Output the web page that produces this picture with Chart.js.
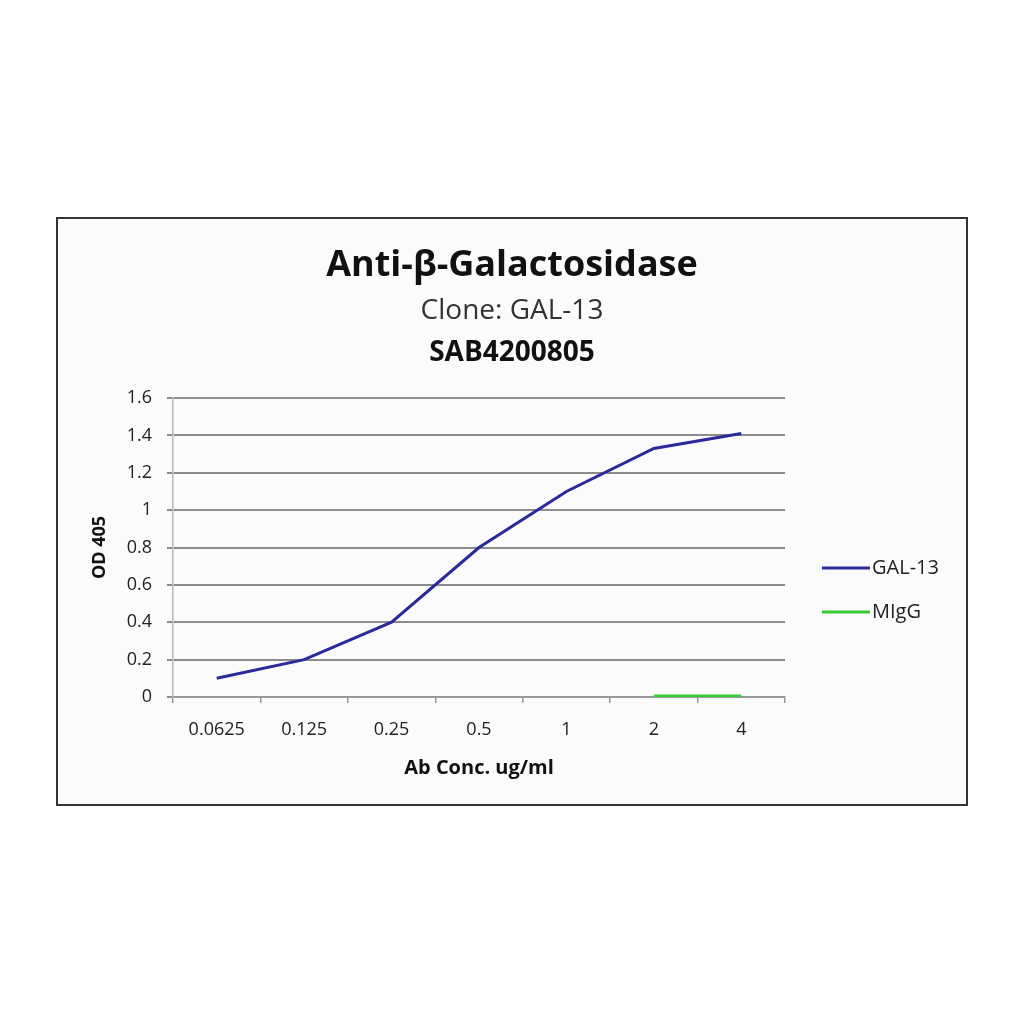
<!DOCTYPE html>
<html>
<head>
<meta charset="utf-8">
<script src="https://cdn.jsdelivr.net/npm/chart.js@4"></script>
<style>
  body { margin: 0; background: #fff; width: 1024px; height: 1024px; position: relative; font-family: "Open Sans", Lato, sans-serif; }
  #frame { position: absolute; left: 56px; top: 217px; width: 912px; height: 589px; box-sizing: border-box; border: 2px solid #333; background: #fbfbfb; }
  #chartBox { position: absolute; left: 0; top: 0; width: 908px; height: 585px; }
  .t { position: absolute; left: 0; width: 908px; text-align: center; color: #111; }
  #t1 { top: 19px; height: 50px; line-height: 50px; font-size: 36px; font-weight: bold; }
  #t2 { top: 69px; height: 40px; line-height: 40px; font-size: 28px; color: #333; }
  #t3 { top: 111px; height: 40px; line-height: 40px; font-size: 28px; font-weight: bold; }
</style>
</head>
<body>
<div id="frame">
  <div id="chartBox"><canvas id="odChart"></canvas></div>
  <div class="t" id="t1">Anti-β-Galactosidase</div>
  <div class="t" id="t2">Clone: GAL-13</div>
  <div class="t" id="t3">SAB4200805</div>
</div>
<script>
// Categories and values
const concentrations = ['0.0625', '0.125', '0.25', '0.5', '1', '2', '4'];
const gal13 = [0.10, 0.20, 0.40, 0.80, 1.10, 1.33, 1.41];
const migg = [null, null, null, null, null, 0.005, 0.005];
const seriesNames = ['GAL-13', 'MIgG'];
const seriesColors = ['#2b2a9c', '#33cc33'];

// Draws the legend beside the plot, like the spreadsheet original
const sideLegend = {
  id: 'sideLegend',
  afterDraw(chart) {
    const { ctx, chartArea } = chart;
    ctx.save();
    chart.data.datasets.forEach((ds, i) => {
      const x = chartArea.right + 37;
      const y = chartArea.top + 170 + i * 44;
      ctx.strokeStyle = ds.borderColor;
      ctx.lineWidth = 3;
      ctx.beginPath();
      ctx.moveTo(x, y);
      ctx.lineTo(x + 48, y);
      ctx.stroke();
      ctx.fillStyle = '#222';
      ctx.font = '20px "Open Sans"';
      ctx.textBaseline = 'middle';
      ctx.fillText(ds.label, x + 50, y);
    });
    ctx.restore();
  }
};

const ctx = document.getElementById('odChart').getContext('2d');

const odChart = new Chart(ctx, {
  type: 'line',
  data: {
    labels: concentrations,
    datasets: [
      {
        label: seriesNames[0],
        data: gal13,
        borderColor: seriesColors[0],
        borderWidth: 3,
        pointRadius: 0,
        tension: 0,
      },
      {
        label: seriesNames[1],
        data: migg,
        borderColor: seriesColors[1],
        borderWidth: 3,
        pointRadius: 0,
        tension: 0,
      },
    ],
  },
  options: {
    responsive: true,
    maintainAspectRatio: false,
    animation: false,
    layout: { padding: { top: 179, right: 181, left: 30, bottom: 0 } },
    plugins: {
      legend: { display: false },
      tooltip: { enabled: false },
    },
    scales: {
      x: {
        offset: true,
        afterFit: (s) => { s.height = 107; },
        grid: { drawOnChartArea: false, offset: true, tickLength: 6, color: '#999', lineWidth: 1.5 },
        border: { color: '#999', width: 2 },
        ticks: { padding: 16, color: '#222', font: { family: 'Open Sans', size: 18 } },
        title: {
          display: true,
          text: 'Ab Conc. ug/ml',
          color: '#111',
          font: { family: 'Open Sans', size: 20, weight: 'bold' },
          padding: { top: 0, bottom: 24 },
        },
      },
      y: {
        min: 0,
        max: 1.6,
        afterFit: (s) => { s.width = 85; },
        ticks: {
          stepSize: 0.2,
          padding: 15,
          color: '#222',
          font: { family: 'Open Sans', size: 18 },
          callback: (v) => String(+v.toFixed(1)),
        },
        grid: { color: '#8c8c8c', lineWidth: 2, tickLength: 6 },
        border: { color: '#b5b5b5', width: 1.5 },
        title: {
          display: true,
          text: 'OD 405',
          color: '#111',
          font: { family: 'Open Sans', size: 18, weight: 'bold' },
          padding: { top: 1, bottom: 0 },
        },
      },
    },
  },
  plugins: [sideLegend],
});
</script>
</body>
</html>
